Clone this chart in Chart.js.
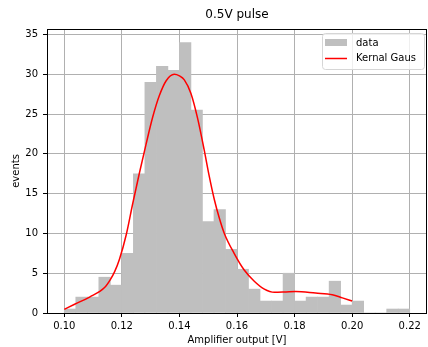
<!DOCTYPE html>
<html>
<head>
<meta charset="utf-8">
<script src="https://cdn.jsdelivr.net/npm/chart.js@4.4.1/dist/chart.umd.min.js"></script>
<style>
  body { margin: 0; background: #fff; }
</style>
</head>
<body>
<canvas id="myChart" width="428" height="347"></canvas>
<script>
// histogram bins (centres) and heights
const binCenters = [0.102, 0.106, 0.110, 0.114, 0.118, 0.122, 0.126, 0.130, 0.134, 0.138,
                    0.142, 0.146, 0.150, 0.154, 0.158, 0.162, 0.166, 0.170, 0.174, 0.178,
                    0.182, 0.186, 0.190, 0.194, 0.198, 0.202, 0.206, 0.210, 0.214, 0.218]
const binCounts = [0.5, 2, 2, 4.5, 3.5, 7.5, 17.5, 29, 31, 30.5,
                   34, 25.5, 11.5, 13, 8, 5.5, 3, 1.5, 1.5, 5,
                   1.5, 2, 2, 4, 1, 1.5, 0, 0, 0.5, 0.5]

// kernel density curve
const kdeX = [0.1000, 0.1036, 0.1088, 0.1140, 0.1160, 0.1175, 0.1192, 0.1215, 0.1238, 0.1261,
              0.1284, 0.1307, 0.1330, 0.1354, 0.1382, 0.1400, 0.1417, 0.1440, 0.1463, 0.1486,
              0.1503, 0.1521, 0.1538, 0.1556, 0.1590, 0.1625, 0.1660, 0.1695, 0.1730, 0.1770,
              0.1804, 0.1873, 0.1931, 0.1966, 0.2000]
const kdeY = [0.45, 1.1, 2.0, 3.2, 4.2, 5.2, 6.8, 9.8, 13.8, 17.6,
              21.2, 24.6, 27.3, 29.2, 30.0, 29.8, 29.3, 27.6, 24.5, 20.5,
              17.3, 14.3, 12.0, 10.0, 7.5, 5.4, 4.0, 3.0, 2.6, 2.65,
              2.7, 2.5, 2.3, 1.9, 1.5]

const xTicks = [0.10, 0.12, 0.14, 0.16, 0.18, 0.20, 0.22]
const yTicks = [0, 5, 10, 15, 20, 25, 30, 35]

const titleText = "0.5V pulse"
const legendLabels = ["data", "Kernal Gaus"]
const barColor = "#bfbfbf"

Chart.defaults.font.family = "'DejaVu Sans', sans-serif"
Chart.defaults.font.size = 10
Chart.defaults.color = "#000"

// title, legend box and frame, matplotlib style
const decorations = {
    id: "decorations",
    afterDraw(chart) {
        const ctx = chart.ctx
        const a = chart.chartArea
        ctx.save()

        ctx.strokeStyle = "#000"
        ctx.lineWidth = 1
        ctx.strokeRect(Math.round(a.left) + 0.5, Math.round(a.top) + 0.5,
                       Math.round(a.right - a.left) - 1, Math.round(a.bottom - a.top))

        ctx.fillStyle = "#000"
        ctx.font = "12px 'DejaVu Sans'"
        ctx.textAlign = "center"
        ctx.textBaseline = "middle"
        ctx.fillText(titleText, (a.left + a.right) / 2, 15)

        // legend
        const bx = 322, by = 33, bw = 102, bh = 36
        ctx.beginPath()
        ctx.roundRect(bx + 0.5, by + 0.5, bw, bh, 3)
        ctx.fillStyle = "rgba(255,255,255,0.8)"
        ctx.fill()
        ctx.strokeStyle = "#d6d6d6"
        ctx.stroke()

        ctx.fillStyle = barColor
        ctx.fillRect(325, 39, 22, 7)
        ctx.strokeStyle = "red"
        ctx.lineWidth = 1.5
        ctx.beginPath()
        ctx.moveTo(325, 58.5)
        ctx.lineTo(347, 58.5)
        ctx.stroke()

        ctx.fillStyle = "#000"
        ctx.font = "10px 'DejaVu Sans'"
        ctx.textAlign = "left"
        ctx.fillText(legendLabels[0], 356, 43)
        ctx.fillText(legendLabels[1], 356, 58.5)
        ctx.restore()
    }
}

const ctx = document.getElementById("myChart")

new Chart(ctx, {
    type: "bar",
    data: {
        datasets: [{
            type: "line",
            label: legendLabels[1],
            data: kdeX.map((x, i) => ({x: x, y: kdeY[i]})),
            borderColor: "red",
            borderWidth: 1.5,
            pointRadius: 0,
            cubicInterpolationMode: "monotone",
            fill: false,
            order: 0
        }, {
            type: "bar",
            label: legendLabels[0],
            data: binCenters.map((x, i) => ({x: x, y: binCounts[i]})),
            backgroundColor: barColor,
            borderWidth: 0,
            barPercentage: 1,
            categoryPercentage: 1,
            grouped: false,
            order: 1
        }]
    },
    options: {
        responsive: false,
        animation: false,
        devicePixelRatio: 1,
        layout: {padding: {top: 29, right: 1, left: 0, bottom: 0}},
        plugins: {
            legend: {display: false},
            title: {display: false},
            tooltip: {enabled: false}
        },
        scales: {
            x: {
                type: "linear",
                min: 0.094,
                max: 0.226,
                offset: false,
                z: 1,
                afterBuildTicks: s => { s.ticks = xTicks.map(v => ({value: v})) },
                afterFit: s => { s.height = 34 },
                ticks: {
                    callback: v => v.toFixed(2),
                    autoSkip: false,
                    maxRotation: 0,
                    padding: 3
                },
                grid: {color: "#b0b0b0", tickColor: "#000", tickLength: 4, offset: false},
                border: {display: false},
                title: {display: true, text: "Amplifier output [V]", padding: {top: 0, bottom: 1}}
            },
            y: {
                min: 0,
                max: 35.7,
                z: 1,
                afterBuildTicks: s => { s.ticks = yTicks.map(v => ({value: v})) },
                afterFit: s => { s.width = 47 },
                ticks: {padding: 5},
                grid: {color: "#b0b0b0", tickColor: "#000", tickLength: 4},
                border: {display: false},
                title: {display: true, text: "events", padding: {top: 10, bottom: 0}}
            }
        }
    },
    plugins: [decorations]
})
</script>
</body>
</html>
